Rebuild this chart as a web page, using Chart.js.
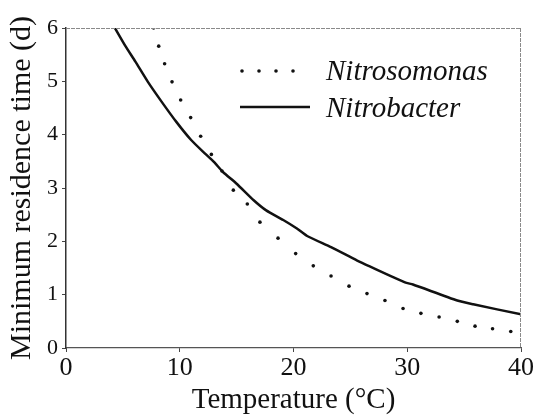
<!DOCTYPE html>
<html>
<head>
<meta charset="utf-8">
<script src="https://cdn.jsdelivr.net/npm/chart.js"></script>
<style> html, body { margin: 0; padding: 0; background: white; } #wrap { width: 535px; height: 416px; } </style>
</head>
<body>
<div id="wrap"><canvas id="myChart"></canvas></div>
<script>
    // Nitrosomonas (dotted)
    const nitrosomonasT = [7.7, 8.15, 8.67, 9.32, 10.08, 10.96, 11.84, 12.78, 13.71, 14.71, 15.94, 17.05,
        18.64, 20.19, 21.74, 23.3, 24.88, 26.46, 28.04, 29.63, 31.2, 32.8, 34.4, 35.96, 37.5, 39.1];
    const nitrosomonasD = [6.0, 5.66, 5.33, 4.99, 4.65, 4.32, 3.97, 3.63, 3.32, 2.96, 2.70, 2.36,
        2.06, 1.77, 1.54, 1.35, 1.16, 1.02, 0.89, 0.74, 0.65, 0.58, 0.50, 0.41, 0.36, 0.31];

    // Nitrobacter (solid)
    const nitrobacterT = [4.3, 5.2, 6.1, 7.2, 8.4, 9.7, 11.0, 12.2, 13.0, 13.8, 15.0, 16.5, 17.6, 19.1, 20.3, 21.2,
        23.3, 25.6, 26.7, 29.8, 30.5, 34.4, 35.8, 40];
    const nitrobacterD = [6.0, 5.67, 5.37, 4.99, 4.62, 4.24, 3.90, 3.65, 3.49, 3.30, 3.08, 2.77, 2.58, 2.40, 2.24, 2.10,
        1.89, 1.64, 1.53, 1.23, 1.19, 0.89, 0.82, 0.63];

    const xTicks = [0, 10, 20, 30, 40];
    const yTicks = [0, 1, 2, 3, 4, 5, 6];

    const serif = "'Liberation Serif', 'Times New Roman', serif";
    const toPts = (xs, ys) => xs.map((x, i) => ({ x: x, y: ys[i] }));

    // top/right frame lines, drawn light and broken like the scan
    const framePlugin = {
        id: 'frame',
        afterDatasetsDraw(chart) {
            const { ctx, chartArea: a } = chart;
            ctx.save();
            ctx.strokeStyle = '#8a8a8a';
            ctx.lineWidth = 1;
            ctx.setLineDash([4, 1]);
            ctx.beginPath();
            ctx.moveTo(a.left, a.top + 0.5);
            ctx.lineTo(a.right, a.top + 0.5);
            ctx.moveTo(a.right - 0.5, a.top);
            ctx.lineTo(a.right - 0.5, a.bottom);
            ctx.stroke();
            ctx.restore();
        }
    };

    // legend inside the plot
    const legendPlugin = {
        id: 'innerLegend',
        afterDraw(chart) {
            const ctx = chart.ctx;
            const ds = chart.data.datasets;
            ctx.save();
            ctx.fillStyle = '#111';
            // dotted sample
            [242, 259, 276, 293].forEach(x => {
                ctx.beginPath();
                ctx.arc(x, 71, 1.8, 0, Math.PI * 2);
                ctx.fill();
            });
            // solid sample
            ctx.strokeStyle = '#111';
            ctx.lineWidth = 2.5;
            ctx.beginPath();
            ctx.moveTo(240, 107);
            ctx.lineTo(310, 107);
            ctx.stroke();
            ctx.font = "italic 29px " + serif;
            ctx.textBaseline = 'alphabetic';
            ctx.fillText(ds[0].label, 326, 80);
            ctx.fillText(ds[1].label, 326, 117);
            ctx.restore();
        }
    };

    const ctx = document.getElementById('myChart').getContext('2d');
    new Chart(ctx, {
        type: 'scatter',
        data: {
            datasets: [
                {
                    label: 'Nitrosomonas',
                    data: toPts(nitrosomonasT, nitrosomonasD),
                    showLine: false,
                    pointRadius: 1.8,
                    pointBackgroundColor: '#111',
                    pointBorderWidth: 0
                },
                {
                    label: 'Nitrobacter',
                    data: toPts(nitrobacterT, nitrobacterD),
                    showLine: true,
                    borderColor: '#111',
                    borderWidth: 2.5,
                    tension: 0.2,
                    pointRadius: 0
                }
            ]
        },
        plugins: [framePlugin, legendPlugin],
        options: {
            responsive: true,
            maintainAspectRatio: false,
            animation: false,
            layout: { padding: { left: 0, right: 14, top: 28, bottom: 0 } },
            plugins: { legend: { display: false }, tooltip: { enabled: false } },
            scales: {
                x: {
                    type: 'linear',
                    min: 0, max: 40,
                    afterBuildTicks: s => { s.ticks = xTicks.map(v => ({ value: v })); },
                    afterFit: s => { s.height = 68; },
                    grid: { drawOnChartArea: false, drawTicks: true, tickLength: 4, color: '#444' },
                    border: { color: '#555', width: 1.2 },
                    ticks: { color: '#111', padding: 1, font: { family: serif, size: 26 } },
                    title: { display: true, text: 'Temperature (°C)', color: '#111', padding: { top: 0, bottom: -2 },
                        font: { family: serif, size: 29 } }
                },
                y: {
                    type: 'linear',
                    min: 0, max: 6,
                    afterBuildTicks: s => { s.ticks = yTicks.map(v => ({ value: v })); },
                    afterFit: s => { s.width = 66; },
                    grid: { drawOnChartArea: false, drawTicks: true, tickLength: 4, color: '#444' },
                    border: { color: '#333', width: 1.5 },
                    ticks: { color: '#111', padding: 4, font: { family: serif, size: 22 } },
                    title: { display: true, text: 'Minimum residence time (d)', color: '#111', padding: { top: 4, bottom: 0 },
                        font: { family: serif, size: 30 } }
                }
            }
        }
    });
</script>
</body>
</html>
